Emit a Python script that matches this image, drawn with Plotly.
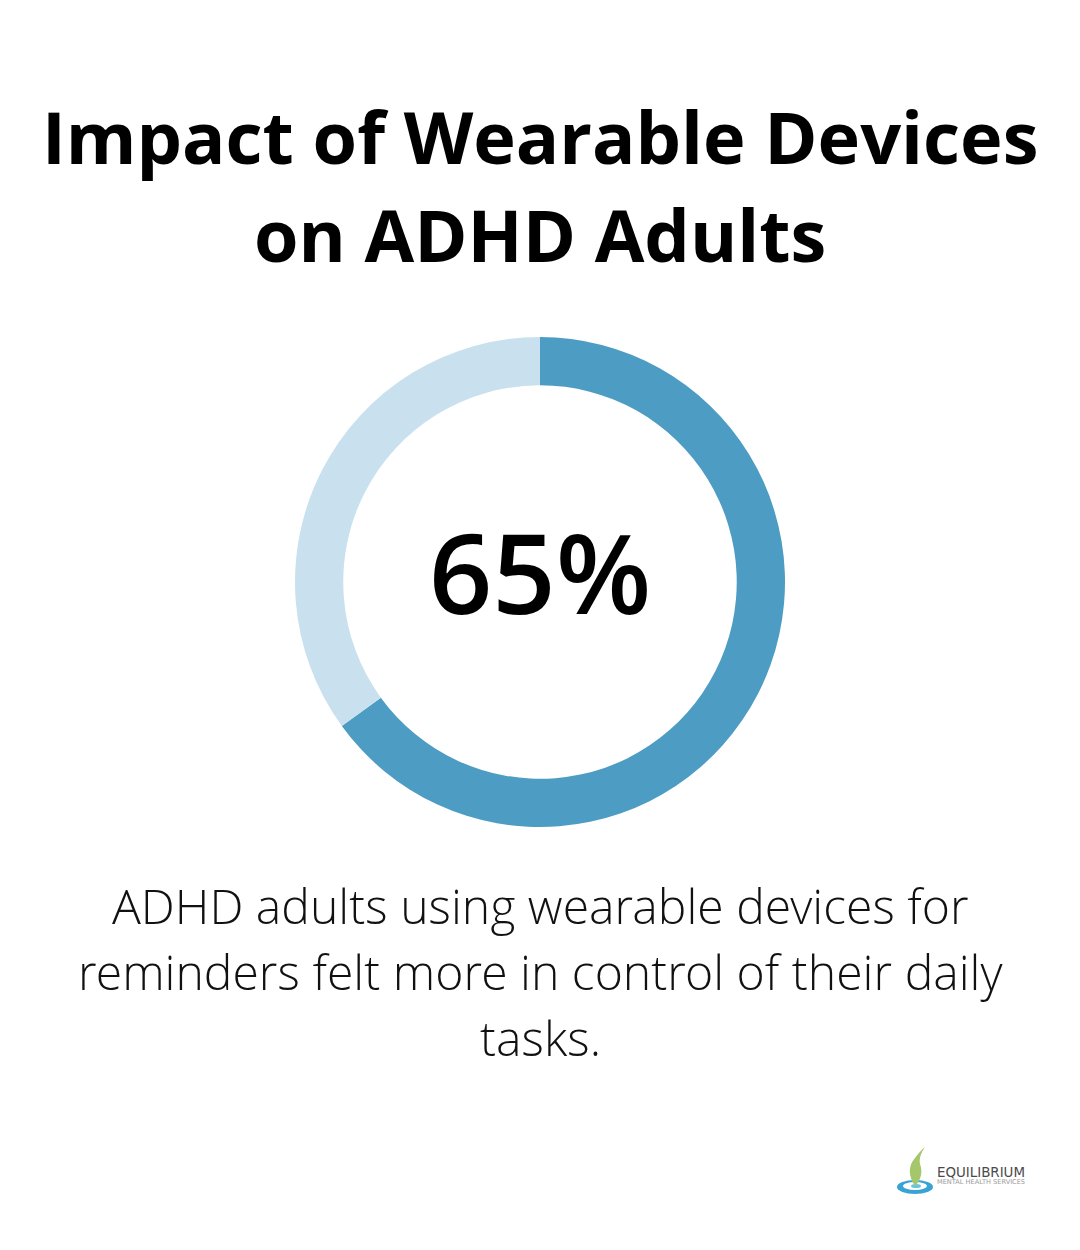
import plotly.graph_objects as go

# Values
labels = ['Felt more in control', 'Other']
values = [65, 35]
colors = ['#4d9cc3', '#c9e1ee']

title_lines = ['Impact of Wearable Devices', 'on ADHD Adults']
center_text = '65%'
caption_lines = ['ADHD adults using wearable devices for',
                 'reminders felt more in control of their daily',
                 'tasks.']

W = 1080
H = 1250
PAGE = 8  # the browser's body margin, the figure starts here

fig_w = W - PAGE
fig_h = H - PAGE

fig = go.Figure(go.Pie(
    labels=labels,
    values=values,
    hole=0.803,
    sort=False,
    direction='clockwise',
    rotation=0,
    textinfo='none',
    hoverinfo='label+percent',
    marker=dict(colors=colors, line=dict(width=0)),
    domain=dict(x=[(295 - PAGE) / fig_w, (785 - PAGE) / fig_w],
                y=[(H - 827) / fig_h, (H - 337) / fig_h]),
    showlegend=False,
))


def add_text(text, x, y, size, family, color='#000000', anchor='center'):
    fig.add_annotation(text=text, x=x, y=y, xref='x', yref='y', showarrow=False,
                       xanchor=anchor, yanchor='middle',
                       font=dict(family=family, size=size, color=color))


# title
add_text('<b>' + title_lines[0] + '</b>', 540, 136, 72, 'Open Sans, sans-serif')
add_text('<b>' + title_lines[1] + '</b>', 540, 234, 72, 'Open Sans, sans-serif')

# number in the ring
add_text(center_text, 540, 571, 111, 'Open Sans SemiBold, Open Sans, sans-serif')

# caption
light = 'Open Sans Light, Open Sans, sans-serif'
add_text(caption_lines[0], 540, 905, 48.1, light, '#111111')
add_text(caption_lines[1], 540, 971, 48.1, light, '#111111')
add_text(caption_lines[2], 540, 1037, 48.1, light, '#111111')

# logo
add_text('EQUILIBRIUM', 935, 1172, 13.4, 'DejaVu Sans, sans-serif', '#4a4a4a', 'left')
add_text('MENTAL HEALTH SERVICES', 935, 1181.5, 6.6, 'DejaVu Sans, sans-serif', '#9a9a9a', 'left')

logo_shapes = [
    dict(type='circle', x0=897, x1=933, y0=1180, y1=1194, fillcolor='#3aa3d6', line_width=0),
    dict(type='circle', x0=903, x1=927, y0=1182, y1=1190, fillcolor='#ffffff', line_width=0),
    dict(type='circle', x0=911, x1=921, y0=1184, y1=1188, fillcolor='#6cc3e0', line_width=0),
    dict(type='path', path='M 915 1186 C 908 1176 908 1166 915 1158 C 918 1154 921 1150 925 1147 '
                           'C 921 1153 919 1158 920 1164 C 923 1172 921 1180 915 1186 Z',
         fillcolor='#a3c76a', line_width=0),
]

fig.update_layout(
    width=fig_w,
    height=fig_h,
    margin=dict(l=0, r=0, t=0, b=0),
    paper_bgcolor='white',
    plot_bgcolor='rgba(0,0,0,0)',
    shapes=logo_shapes,
    xaxis=dict(range=[PAGE, W], visible=False, fixedrange=True),
    yaxis=dict(range=[H, PAGE], visible=False, fixedrange=True),
)

fig.write_html('out.html')
